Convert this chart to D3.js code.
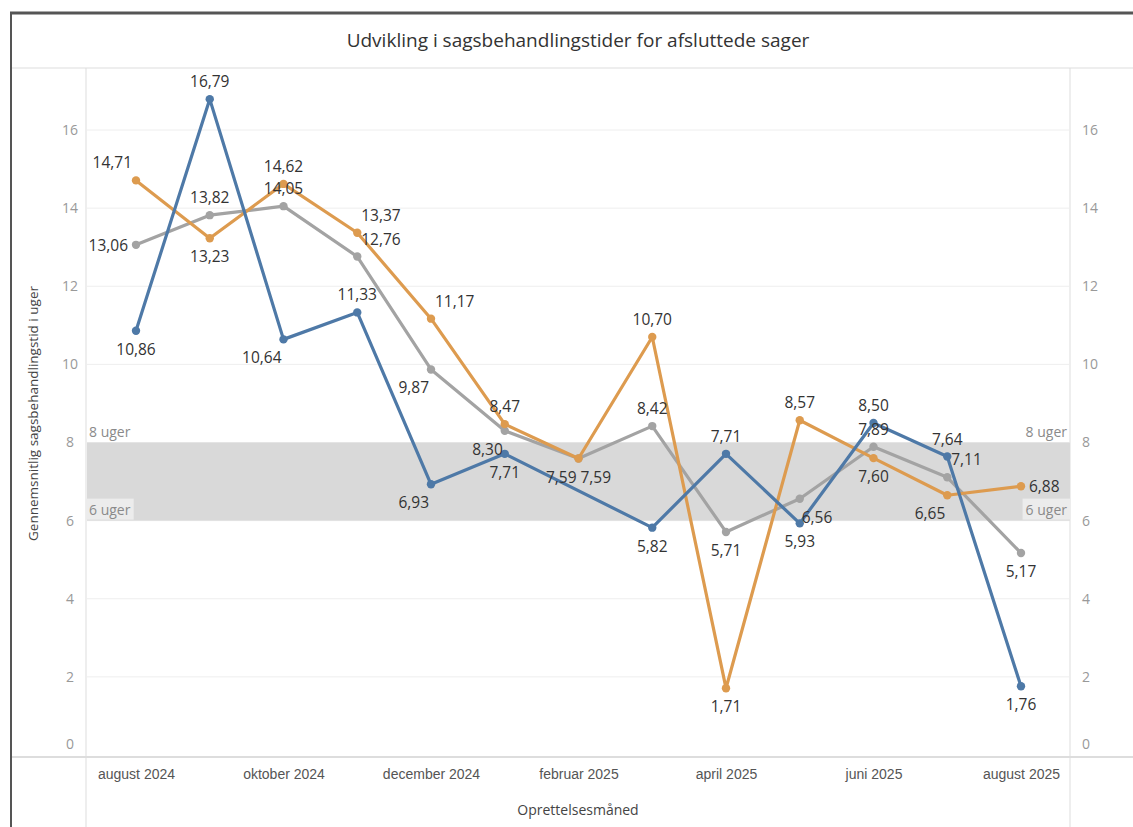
<!DOCTYPE html>
<html>
<head>
<meta charset="utf-8">
<script src="https://cdn.jsdelivr.net/npm/d3@7"></script>
<style>
  body { margin: 0; background: #fff; }
  svg { display: block; font-family: "Open Sans", "Noto Sans", sans-serif; }
</style>
</head>
<body>
<div id="chart"></div>
<script>
// Months on the x axis (creation month)
const months = ["2024-08", "2024-09", "2024-10", "2024-11", "2024-12", "2025-01", "2025-02",
                "2025-03", "2025-04", "2025-05", "2025-06", "2025-07", "2025-08"];
const tickLabels = {
  "2024-08": "august 2024", "2024-10": "oktober 2024", "2024-12": "december 2024",
  "2025-02": "februar 2025", "2025-04": "april 2025", "2025-06": "juni 2025", "2025-08": "august 2025"
};
const yTicks = [0, 2, 4, 6, 8, 10, 12, 14, 16];

// Series values (weeks); null = no value that month
const blueValues   = [10.86, 16.79, 10.64, 11.33, 6.93, 7.71, null, 5.82, 7.71, 5.93, 8.50, 7.64, 1.76];
const orangeValues = [14.71, 13.23, 14.62, 13.37, 11.17, 8.47, 7.59, 10.70, 1.71, 8.57, 7.60, 6.65, 6.88];
const grayValues   = [13.06, 13.82, 14.05, 12.76, 9.87, 8.30, 7.59, 8.42, 5.71, 6.56, 7.89, 7.11, 5.17];

// Where each mark label sits relative to its point
const blueLabelPos   = ["b", "t", "bl", "t", "bl", "b", null, "b", "t", "b", "t", "t", "b"];
const orangeLabelPos = ["tl", "b", "t", "tr", "tr", "t", "bl", "t", "b", "t", "b", "bl", "r"];
const grayLabelPos   = ["l", "t", "t", "tr", "bl", "bl", "br", "t", "b", "br", "t", "tr", "b"];

// Reference band (6 - 8 weeks)
const bandLow = 6, bandHigh = 8;

const series = [
  { name: "gray", color: "#a3a3a3", values: grayValues, pos: grayLabelPos },
  { name: "orange", color: "#dd9b4f", values: orangeValues, pos: orangeLabelPos },
  { name: "blue", color: "#4e79a7", values: blueValues, pos: blueLabelPos }
];

const W = 1133, H = 827;
const plot = { left: 86, right: 1070, top: 68, bottom: 755 };

const svg = d3.select("#chart").append("svg")
  .attr("width", W).attr("height", H);

// Outer frame and title
svg.append("line").attr("x1", 10).attr("x2", W).attr("y1", 13).attr("y2", 13)
  .attr("stroke", "#555").attr("stroke-width", 3);
svg.append("line").attr("x1", 11).attr("x2", 11).attr("y1", 12).attr("y2", H)
  .attr("stroke", "#555").attr("stroke-width", 2);
svg.append("text")
  .attr("x", 578).attr("y", 47)
  .attr("text-anchor", "middle")
  .attr("font-size", 19).attr("fill", "#333")
  .text("Udvikling i sagsbehandlingstider for afsluttede sager");

const x = d3.scalePoint().domain(months).range([136, 1021]);
const y = d3.scaleLinear().domain([0, 16]).range([plot.bottom, 130]);

// Frame lines of the pane
svg.append("line").attr("x1", 12).attr("x2", W).attr("y1", plot.top).attr("y2", plot.top)
  .attr("stroke", "#ddd");
svg.append("line").attr("x1", 12).attr("x2", W).attr("y1", plot.bottom + 2).attr("y2", plot.bottom + 2)
  .attr("stroke", "#ddd").attr("stroke-width", 2);
[plot.left, plot.right].forEach(px => {
  svg.append("line").attr("x1", px).attr("x2", px).attr("y1", plot.top).attr("y2", H)
    .attr("stroke", "#ddd");
});

// Gridlines
svg.append("g").selectAll("line")
  .data(yTicks.filter(d => d > 0))
  .join("line")
  .attr("x1", plot.left).attr("x2", plot.right)
  .attr("y1", d => y(d)).attr("y2", d => y(d))
  .attr("stroke", "#eeeeee");

// Reference band
svg.append("rect")
  .attr("x", plot.left + 1).attr("width", plot.right - plot.left - 1)
  .attr("y", y(bandHigh)).attr("height", y(bandLow) - y(bandHigh))
  .attr("fill", "#d9d9d9");

// Band labels
const bandLabels = [
  { v: bandHigh, text: "8 uger", dy: -6 },
  { v: bandLow, text: "6 uger", dy: -6 }
];
bandLabels.forEach(b => {
  [{ xx: plot.left + 3, anchor: "start" }, { xx: plot.right - 3, anchor: "end" }].forEach(s => {
    const t = svg.append("text")
      .attr("x", s.xx).attr("y", y(b.v) + b.dy)
      .attr("text-anchor", s.anchor)
      .attr("font-size", 14).attr("fill", "#8a8a8a")
      .text(b.text);
    if (b.v === bandLow) {
      const bb = t.node().getBBox();
      svg.insert("rect", () => t.node())
        .attr("x", bb.x - 3).attr("y", bb.y - 1)
        .attr("width", bb.width + 6).attr("height", bb.height + 2)
        .attr("fill", "#ececec");
    }
  });
});

// Y axes (left and right)
const leftAxis = svg.append("g")
  .attr("transform", `translate(${plot.left},0)`)
  .call(d3.axisLeft(y).tickValues(yTicks).tickSize(0).tickPadding(10).tickFormat(d3.format("d")));
const rightAxis = svg.append("g")
  .attr("transform", `translate(${plot.right},0)`)
  .call(d3.axisRight(y).tickValues(yTicks).tickSize(0).tickPadding(12).tickFormat(d3.format("d")));
[leftAxis, rightAxis].forEach(ax => {
  ax.select(".domain").remove();
  ax.selectAll("text").attr("font-size", 14).attr("fill", "#999")
    .attr("font-family", "\"Open Sans\", sans-serif");
  ax.selectAll(".tick").filter(d => d === 0).select("text").attr("dy", "-0.5em");
});
leftAxis.selectAll("text").attr("text-anchor", "middle").attr("x", -16);

// Y axis title
svg.append("text")
  .attr("transform", `translate(38,${(plot.top + plot.bottom) / 2 + 2}) rotate(-90)`)
  .attr("text-anchor", "middle")
  .attr("font-size", 13.5).attr("fill", "#444")
  .text("Gennemsnitlig sagsbehandlingstid i uger");

// X axis
const xAxis = svg.append("g")
  .attr("transform", `translate(0,${plot.bottom + 2})`)
  .call(d3.axisBottom(x).tickValues(Object.keys(tickLabels)).tickSize(0).tickPadding(12)
    .tickFormat(d => tickLabels[d]));
xAxis.select(".domain").remove();
xAxis.selectAll("text").attr("font-size", 14).attr("fill", "#555");

svg.append("text")
  .attr("x", 578).attr("y", 815)
  .attr("text-anchor", "middle")
  .attr("font-size", 14).attr("fill", "#444")
  .text("Oprettelsesmåned");

// Lines and markers
const fmt = v => d3.format(".2f")(v).replace(".", ",");
const offsets = {
  t: [0, -12, "middle"], b: [0, 24, "middle"], l: [-8, 6, "end"], r: [8, 6, "start"],
  tl: [-4, -12, "end"], tr: [4, -12, "start"], bl: [-2, 24, "end"], br: [2, 24, "start"]
};

series.forEach(s => {
  const pts = months.map((m, i) => ({ m, v: s.values[i], pos: s.pos[i] }))
    .filter(d => d.v !== null);

  svg.append("path")
    .datum(pts)
    .attr("fill", "none")
    .attr("stroke", s.color)
    .attr("stroke-width", 3.2)
    .attr("stroke-linejoin", "round")
    .attr("d", d3.line().x(d => x(d.m)).y(d => y(d.v)));

  svg.append("g").selectAll("circle")
    .data(pts)
    .join("circle")
    .attr("cx", d => x(d.m)).attr("cy", d => y(d.v))
    .attr("r", 4.2)
    .attr("fill", s.color);

  s.pts = pts;
});

series.forEach(s => {
  svg.append("g").selectAll("text")
    .data(s.pts)
    .join("text")
    .attr("x", d => x(d.m) + offsets[d.pos][0])
    .attr("y", d => y(d.v) + offsets[d.pos][1])
    .attr("text-anchor", d => offsets[d.pos][2])
    .attr("font-size", 15.5).attr("fill", "#333")
    .text(d => fmt(d.v));
});
</script>
</body>
</html>
